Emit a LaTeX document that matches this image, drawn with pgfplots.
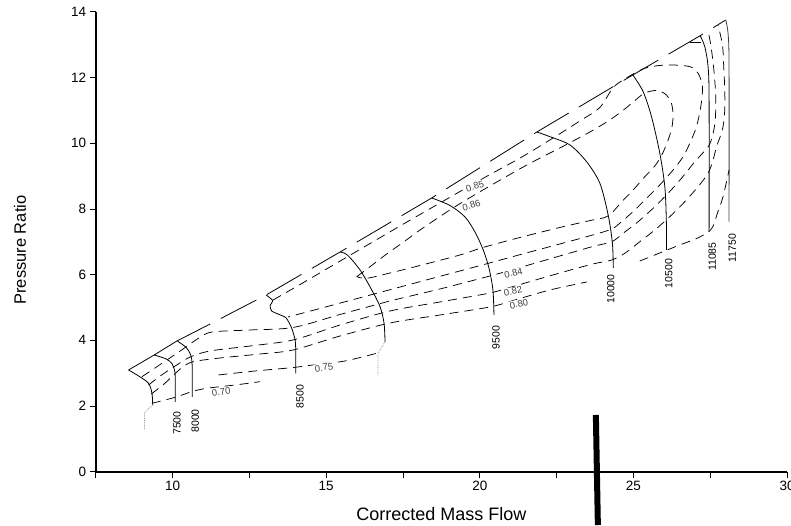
\documentclass[border=0pt]{standalone}
\usepackage{pgfplots}
\pgfplotsset{compat=1.18}
\usepackage{fontspec}
\setmainfont{Liberation Sans}
\begin{document}
\begin{tikzpicture}
\begin{axis}[
  at={(0,0)}, anchor=south west,
  scale only axis, width=691.3pt, height=459.8pt,
  xmin=7.5, xmax=30, ymin=0, ymax=14,
  axis lines*=left,
  axis line style={line width=1.6pt},
  xtick={10,15,20,25,30},
  minor xtick={7.5,12.5,17.5,22.5,27.5},
  ytick={0,2,4,6,8,10,12,14},
  tick align=outside,
  major tick length=6pt, minor tick length=6pt,
  tick style={black, line width=0.9pt},
  tick label style={font=\fontsize{13.5}{16}\selectfont},
  /pgf/number format/assume math mode=true,
  xlabel={Corrected Mass Flow},
  ylabel={Pressure Ratio},
  xlabel style={font=\fontsize{18}{21}\selectfont, at={(axis description cs:0.5,-0.0931)}, anchor=center},
  ylabel style={font=\fontsize{16.5}{19}\selectfont, at={(axis description cs:-0.1095,0.482)}, anchor=center},
  clip=false,
]
% ---------- surge line ----------
\addplot[black, line width=0.8pt] coordinates {(8.569,3.097) (9.405,3.554) (10.143,3.980) (11.226,4.498)};
\addplot[black, line width=0.8pt, dash pattern=on 40pt off 12pt, dash phase=40pt] coordinates {(11.226,4.498) (13.047,5.381) (15.454,6.690) (18.436,8.335) (21.860,10.344) (24.982,12.080) (27.161,13.268) (28.007,13.755)};
% ---------- speed lines ----------
\addplot[black, line width=0.8pt, smooth] coordinates {(8.569,3.097) (8.950,2.884) (9.220,2.692) (9.330,2.397) (9.356,2.031)};
\addplot[black!45, line width=0.7pt, densely dotted] coordinates {(9.356,2.031) (9.090,1.800) (9.090,1.270)};
\addplot[black, line width=0.8pt, smooth] coordinates {(9.405,3.554) (9.795,3.432) (9.990,3.280) (10.078,3.036) (10.088,2.640) (10.088,2.123)};
\addplot[black, line width=0.8pt, smooth] coordinates {(10.169,3.971) (10.446,3.782) (10.592,3.554) (10.641,3.219) (10.641,2.275)};
\addplot[black, line width=0.8pt, smooth, tension=0.4] coordinates {(13.047,5.381) (13.259,5.213) (13.177,5.061) (13.226,4.894) (13.470,4.787) (13.698,4.681) (13.877,4.376) (13.990,4.011) (14.013,3.645) (14.013,2.997)};
\addplot[black, line width=0.8pt, smooth] coordinates {(15.454,6.690) (15.691,6.599) (16.104,6.142) (16.485,5.533) (16.755,5.025) (16.885,4.519) (16.917,3.950)};
\addplot[black!45, line width=0.7pt, densely dotted] coordinates {(16.917,3.950) (16.690,3.615) (16.690,2.945)};
\addplot[black, line width=0.8pt, smooth] coordinates {(18.436,8.335) (19.031,8.106) (19.519,7.756) (19.844,7.299) (20.114,6.751) (20.299,6.203) (20.429,5.533) (20.462,4.772)};
\addplot[black, line width=0.8pt, smooth] coordinates {(21.860,10.344) (22.283,10.201) (22.933,9.949) (23.476,9.440) (23.909,8.782) (24.179,7.817) (24.316,6.964) (24.348,6.203)};
\addplot[black, line width=0.8pt, smooth] coordinates {(24.982,12.080) (25.317,11.572) (25.590,10.810) (25.860,9.696) (26.023,8.679) (26.072,7.665) (26.078,6.751)};
\addplot[black, line width=0.8pt] coordinates {(26.836,13.085) (27.194,13.085)};
\addplot[black, line width=0.8pt, smooth] coordinates {(27.177,13.268) (27.324,12.942) (27.431,12.333) (27.464,11.319) (27.464,7.299)};
\addplot[black!75, line width=0.8pt, smooth] coordinates {(28.007,13.755) (28.081,13.350) (28.114,12.333) (28.114,7.613)};
% ---------- efficiency contours ----------
\addplot[black, line width=0.75pt, dash pattern=on 9pt off 6pt, smooth] coordinates {(9.330,2.083) (10.088,2.266) (10.641,2.442) (11.119,2.540) (12.039,2.640) (12.852,2.741)};
\addplot[black, line width=0.75pt, dash pattern=on 9pt off 6pt, smooth] coordinates {(11.496,2.945) (12.690,3.067) (13.935,3.173) (14.803,3.280) (15.616,3.371) (16.647,3.606)};
\addplot[black, line width=0.75pt, dash pattern=on 9pt off 6pt, smooth] coordinates {(9.308,2.366) (9.763,2.701) (10.251,3.128) (10.641,3.341) (11.551,3.463) (12.852,3.584) (13.925,3.706) (15.454,4.132) (17.080,4.528) (18.706,4.772) (20.332,5.016) (21.145,5.229) (22.283,5.533) (23.486,5.777)};
\addplot[black, line width=0.75pt, dash pattern=on 9pt off 6pt, smooth] coordinates {(25.210,6.416) (25.860,6.660) (26.511,6.904) (27.096,7.117) (27.542,7.391) (27.747,7.908) (27.918,8.374) (28.114,9.187)};
\addplot[black, line width=0.75pt, dash pattern=on 9pt off 6pt, smooth] coordinates {(9.220,2.640) (9.600,2.914) (10.088,3.219) (10.576,3.493) (11.226,3.676) (12.527,3.828) (13.925,4.011) (15.454,4.467) (17.080,4.894) (18.706,5.168) (20.332,5.442) (21.145,5.655) (22.608,6.051) (23.681,6.325) (24.299,6.447) (24.722,6.651) (25.210,7.004) (25.698,7.360) (26.185,7.765) (26.673,8.222) (27.105,8.679) (27.431,9.087) (27.594,9.492) (27.704,9.897) (27.811,10.162) (27.918,10.506) (27.974,11.014) (27.974,11.623) (27.941,12.324) (27.899,12.994) (27.756,13.587)};
\addplot[black, line width=0.75pt, dash pattern=on 9pt off 6pt, smooth] coordinates {(9.005,2.893) (9.600,3.265) (10.251,3.676) (10.836,4.056) (11.291,4.254) (12.527,4.315) (13.925,4.391) (15.454,4.787) (17.080,5.198) (18.706,5.564) (20.332,5.960) (21.145,6.173) (22.608,6.569) (23.681,6.858) (24.299,7.004) (24.667,7.260) (25.155,7.613) (25.642,8.021) (26.130,8.478) (26.566,8.935) (26.966,9.400) (27.259,9.705) (27.454,9.918) (27.584,10.253) (27.665,10.710) (27.681,11.319) (27.649,11.928) (27.584,12.537) (27.519,12.994) (27.437,13.400)};
\addplot[black, line width=0.75pt, dash pattern=on 9pt off 6pt, smooth] coordinates {(13.275,5.229) (14.153,5.701) (15.681,6.538) (17.405,7.482) (18.706,8.182) (20.072,8.913) (21.372,9.583) (22.283,10.101) (23.259,10.679) (23.909,11.091) (24.332,11.684) (24.722,11.958) (25.372,12.284) (26.088,12.385) (26.836,12.333) (27.105,12.132) (27.248,11.724) (27.194,11.115) (27.053,10.506) (26.836,10.000) (26.618,9.592) (26.293,9.187) (25.860,8.731) (25.428,8.326) (25.047,7.969) (24.614,7.613) (24.299,7.391) (23.681,7.208) (22.608,6.934) (21.307,6.608) (20.007,6.276) (18.381,5.868) (16.755,5.460) (15.129,5.052) (13.763,4.711)};
\addplot[black, line width=0.75pt, dash pattern=on 9pt off 6pt, smooth] coordinates {(15.997,5.938) (16.430,6.243) (16.972,6.629) (17.568,7.025) (18.056,7.360) (19.129,8.030) (20.104,8.578) (21.535,9.340) (22.608,9.857) (23.584,10.344) (24.234,10.710) (24.722,11.045) (25.112,11.349) (25.372,11.532) (25.763,11.608) (26.055,11.486) (26.234,11.228) (26.293,10.862) (26.250,10.466) (26.120,10.070) (25.925,9.644) (25.698,9.309) (25.372,8.983) (24.992,8.578) (24.614,8.213) (24.299,7.878) (24.072,7.741) (23.681,7.665) (22.608,7.436) (21.307,7.132) (20.104,6.827) (19.356,6.599) (18.056,6.279) (17.080,6.051) (16.322,5.889) (15.997,5.938)};
% ---------- artifact bar ----------
\addplot[black, line width=6pt] coordinates {(23.779,1.727) (23.844,-1.623)};
% ---------- efficiency labels ----------
\begin{scope}[every node/.style={font=\fontsize{9.5}{11}\selectfont, text=black!75, fill=white, inner sep=1pt}]
\node[rotate=8] at (axis cs:11.584,2.427) {0.70};
\node[rotate=8] at (axis cs:14.933,3.173) {0.75};
\node[rotate=12] at (axis cs:21.275,5.107) {0.80};
\node[rotate=12] at (axis cs:21.080,5.488) {0.82};
\node[rotate=12] at (axis cs:21.096,6.051) {0.84};
\node[rotate=17] at (axis cs:19.844,8.685) {0.85};
\node[rotate=17] at (axis cs:19.730,8.106) {0.86};
\end{scope}
% ---------- speed labels ----------
\begin{scope}[every node/.style={font=\fontsize{10.5}{12}\selectfont, rotate=90, inner sep=0pt}]
\node at (axis cs:10.143,1.483) {7500};
\node at (axis cs:10.738,1.544) {8000};
\node at (axis cs:14.153,2.284) {8500};
\node at (axis cs:20.527,4.087) {9500};
\node at (axis cs:24.267,5.564) {10000};
\node at (axis cs:26.153,6.036) {10500};
\node at (axis cs:27.568,6.547) {11085};
\node at (axis cs:28.218,6.812) {11750};
\end{scope}
\end{axis}
\pgfresetboundingbox
\path[use as bounding box] (-95.7pt,-53.3pt) rectangle (695.3pt,471.7pt);
\end{tikzpicture}
\end{document}
